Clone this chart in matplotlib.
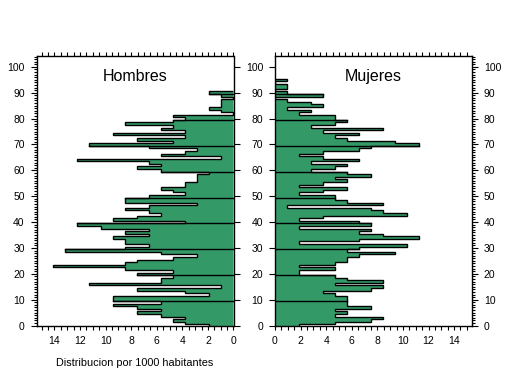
import matplotlib
matplotlib.use("Agg")
import matplotlib.pyplot as plt
from matplotlib.ticker import MultipleLocator
import numpy as np

# persons per year of age (index = age)
hombres = [2, 4, 5, 4, 6, 8, 6, 8, 10, 6,
           10, 10, 2, 4, 8, 1, 12, 6, 6, 5,
           8, 5, 9, 15, 9, 8, 5, 3, 6, 14,
           9, 7, 9, 9, 10, 7, 9, 7, 11, 13,
           4, 10, 8, 6, 7, 9, 7, 3, 9, 9,
           7, 4, 5, 6, 4, 4, 3, 3, 3, 2,
           6, 8, 6, 7, 13, 1, 6, 4, 3, 7,
           12, 5, 8, 4, 10, 4, 6, 5, 9, 5,
           4, 5, 0, 1, 2, 1, 1, 1, 0, 1, 2]
mujeres = [2, 5, 8, 9, 5, 6, 5, 8, 6, 6,
           6, 6, 5, 4, 8, 9, 5, 9, 6, 5,
           2, 2, 5, 2, 5, 6, 6, 7, 10, 6,
           7, 11, 2, 7, 12, 9, 7, 8, 2, 8,
           7, 2, 4, 11, 9, 8, 1, 9, 6, 5,
           5, 2, 4, 6, 2, 4, 6, 5, 8, 6,
           3, 5, 6, 3, 7, 4, 2, 4, 7, 8,
           12, 10, 6, 5, 7, 4, 9, 3, 5, 6,
           5, 5, 2, 3, 1, 4, 3, 1, 0, 4,
           1, 0, 1, 1, 0, 1]
TOTAL = 1064  # inhabitants, one person = 1000 / TOTAL

GREEN = "#339966"
FONT = "Liberation Sans"

plt.rcParams["font.family"] = [FONT, "DejaVu Sans"]

W, H = 509, 376
fig = plt.figure(figsize=(W / 100, H / 100), dpi=100)
ax_h = fig.add_axes([36.5 / W, 50 / H, 197 / W, 270 / H])
ax_m = fig.add_axes([275 / W, 50 / H, 197 / W, 270 / H])


def draw_panel(ax, counts):
    vals = np.array(counts) * 1000 / TOTAL
    edges = np.arange(len(vals) + 1) - 0.5
    ax.stairs(vals, edges, orientation="horizontal", baseline=0, fill=True,
              facecolor=GREEN, edgecolor="black", linewidth=1)
    # black line every ten years across the bars
    for b in range(10, len(vals), 10):
        w = max(vals[b - 1], vals[b])
        ax.plot([0, w], [b - 0.5, b - 0.5], color="black", lw=1)

    ax.set_ylim(-0.17, 104.2)
    ax.yaxis.set_major_locator(MultipleLocator(10))
    ax.yaxis.set_minor_locator(MultipleLocator(1))
    ax.xaxis.set_major_locator(MultipleLocator(2))
    ax.xaxis.set_minor_locator(MultipleLocator(0.5))
    ax.tick_params(which="both", direction="out", labelsize=7.5, width=0.8,
                   top=True, colors="black", pad=4)
    ax.tick_params(axis="x", which="both", length=3)
    ax.tick_params(axis="y", which="major", length=4.5)
    ax.tick_params(axis="y", which="minor", length=2.5)
    for sp in ax.spines.values():
        sp.set_linewidth(1)


draw_panel(ax_h, hombres)
ax_h.set_xlim(15.4, 0)
ax_h.tick_params(axis="y", which="major", left=True, right=True,
                 labelleft=True, labelright=False)
ax_h.tick_params(axis="y", which="minor", left=True, right=False)
ax_h.text(0.5, 0.925, "Hombres", transform=ax_h.transAxes, ha="center",
          va="center", fontsize=11.5)
ax_h.set_xlabel("Distribucion por 1000 habitantes", fontsize=7.8, labelpad=9)

draw_panel(ax_m, mujeres)
ax_m.set_xlim(0, 15.4)
ax_m.tick_params(axis="y", which="major", left=True, right=True,
                 labelleft=True, labelright=True)
ax_m.tick_params(axis="y", which="minor", left=False, right=True)
ax_m.text(0.5, 0.925, "Mujeres", transform=ax_m.transAxes, ha="center",
          va="center", fontsize=11.5)

fig.savefig("out.png", dpi=100)
